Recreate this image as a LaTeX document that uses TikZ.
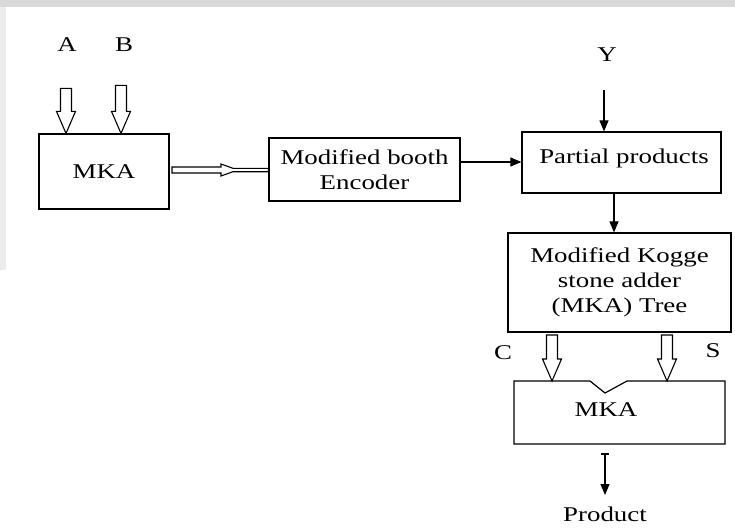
\documentclass[tikz,border=0pt]{standalone}
\usepackage{fontspec}
\setmainfont{Liberation Serif}[FakeStretch=1.28]
\usetikzlibrary{arrows.meta}
\definecolor{bandgray}{RGB}{217,217,217}
\definecolor{sidegray}{RGB}{236,236,236}
\tikzset{
  box/.style={draw, line width=1.2pt, inner sep=0pt},
  lbl/.style={inner sep=0pt, font=\fontsize{21}{25}\selectfont},
  harrowstyle/.style={draw, line width=1.1pt, fill=white, line join=miter},
  solidarrow/.style={line width=1.1pt, -{Triangle[length=11pt,width=9pt]}},
}
% hollow down arrow: #1 tip coordinate, #2 total length
\newcommand\hollowdown[2]{%
  \draw[harrowstyle] (#1) -- ++(9.5,-22) -- ++(-4,0) -- ++(0,-#2+22)
    -- ++(-11,0) -- ++(0,#2-22) -- ++(-4,0) -- cycle;}
\begin{document}
\begin{tikzpicture}[x=1pt,y=-1pt]
\useasboundingbox (0,0) rectangle (735,527);
\fill[white] (0,0) rectangle (735,527);
\fill[bandgray] (0,0) rectangle (735,7);
\fill[sidegray] (0,7) rectangle (6,270);

% boxes
\node[box, minimum width=130pt, minimum height=75pt, lbl] (mka1) at (104,171.5) {MKA};
\node[box, minimum width=191pt, minimum height=63pt, lbl, align=center] (enc) at (364.5,169.5) {Modified booth\\Encoder};
\node[box, minimum width=199pt, minimum height=61pt] (pp) at (621.5,162.5) {};
\node[lbl] (pptext) at (624,158) {Partial products};
\node[box, minimum width=223pt, minimum height=99pt, lbl, align=center] (kogge) at (619.5,282.5) {Modified Kogge\\stone adder\\(MKA) Tree};
% second MKA with notch on top
\coordinate (m2nw) at (514,381);
\coordinate (m2se) at (725,444);
\draw[line width=1.2pt, line join=miter] (m2nw) -- (590,381) -- (605,393) -- (627,381) -- (725,381) -- (m2se) -- (514,444) -- cycle;
\node[lbl] (mka2) at (606,410) {MKA};

% labels
\node[lbl] (A) at (67,45) {A};
\node[lbl] (B) at (124,45) {B};
\node[lbl] (Y) at (607,55) {Y};
\node[lbl] (C) at (503,353) {C};
\node[lbl] (S) at (713,351) {S};
\node[lbl] (prod) at (605,514) {Product};

% hollow arrows into first MKA
\hollowdown{mka1.north -| 66,0}{45}
\hollowdown{mka1.north -| 121,0}{48}
% hollow arrows C and S
\hollowdown{552,381}{46}
\hollowdown{667,381}{46}

% hollow horizontal arrow MKA -> encoder
\coordinate (hs1) at (172,167);
\coordinate (hs2) at (172,173);
\draw[harrowstyle] (hs1) -- (221,167) -- (221,164) -- (233,168.3)
  -- (enc.west |- 0,168.3) -- (enc.west |- 0,171.7) -- (233,171.7) -- (221,176) -- (221,173)
  -- (hs2) -- cycle;

% solid arrows
\draw[solidarrow] (enc.east |- 0,162) -- (pp.west |- 0,162);
\coordinate (ytop) at (604,90);
\draw[solidarrow] (ytop) -- (pp.north -| 604,0);
\draw[solidarrow] (pp.south -| 614,0) -- (kogge.north -| 614,0);
\coordinate (ptop) at (605,454);
\draw[line width=1.1pt] (601,454) -- (609,454);
\draw[solidarrow] (ptop) -- (605,495);
\end{tikzpicture}
\end{document}
